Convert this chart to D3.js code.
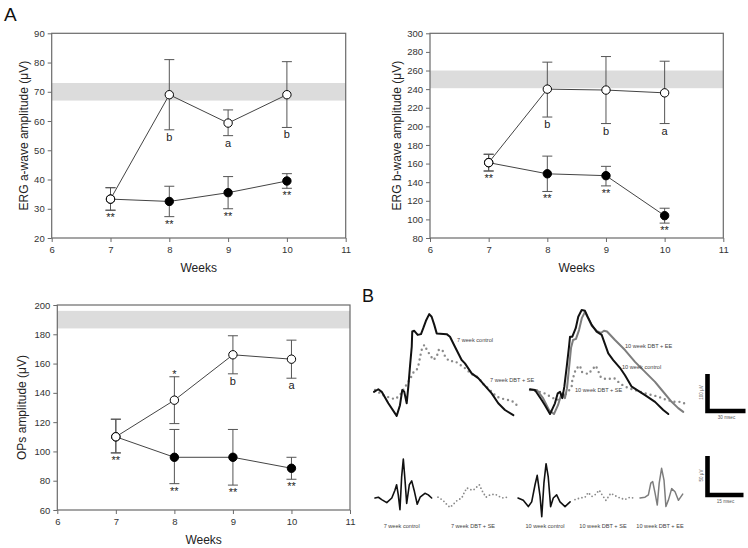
<!DOCTYPE html>
<html><head><meta charset="utf-8">
<script src="https://cdn.jsdelivr.net/npm/d3@7"></script>
<style>body{margin:0;background:#fff} svg{display:block;font-family:"Liberation Sans",Arial,sans-serif}</style>
</head><body><svg id="c" width="748" height="548"></svg>
<script>
// ---------- DATA ----------
const weeks = [7, 8, 9, 10];
const xTicks = [6, 7, 8, 9, 10, 11];

// ERG a-wave
const aOpen = [33.3, 69, 59.3, 69];
const aOpenLo = [29.5, 57, 55, 57.8];
const aOpenHi = [37.2, 81, 63.8, 80.3];
const aFilled = [33.3, 32.5, 35.5, 39.5];
const aFilledLo = [29.5, 27.3, 30, 37];
const aFilledHi = [37.2, 37.7, 41, 42];
const aBand = [67, 73];
const aLetters = ["", "b", "a", "b"];
const aStarsBelow = ["**", "**", "**", "**"];
const aStarsAbove = ["", "", "", ""];
const aTicks = [20, 30, 40, 50, 60, 70, 80, 90];

// ERG b-wave
const bOpen = [161, 240, 239, 236];
const bOpenLo = [152, 210, 203, 203];
const bOpenHi = [170, 269, 275, 270];
const bFilled = [161, 149, 147, 104];
const bFilledLo = [152, 130, 136, 96];
const bFilledHi = [170, 168, 157, 112];
const bBand = [241, 260];
const bLetters = ["", "b", "b", "a"];
const bStarsBelow = ["**", "**", "**", "**"];
const bStarsAbove = ["", "", "", ""];
const bTicks = [80, 100, 120, 140, 160, 180, 200, 220, 240, 260, 280, 300];

// OPs
const oOpen = [110, 135, 166, 163];
const oOpenLo = [99, 119, 153, 150];
const oOpenHi = [122, 151, 179, 176];
const oFilled = [110, 96, 96, 88.5];
const oFilledLo = [99, 78, 77, 81];
const oFilledHi = [122, 115, 115, 96];
const oBand = [184, 196];
const oLetters = ["", "", "b", "a"];
const oStarsBelow = ["**", "**", "**", "**"];
const oStarsAbove = ["", "*", "", ""];
const oTicks = [60, 80, 100, 120, 140, 160, 180, 200];

// Panel B traces: [time (ms), amplitude (µV)]
const ergCtl7 = [[0,-5],[3.4,2],[6.1,-5],[11.3,-36],[17.9,-70],[20.5,-41],[22.3,0],[23.9,-5],[25.8,-36],[27.1,9],[28.4,63],[29.8,117],[30.2,158],[31.8,160],[34.5,149],[37.1,151],[38.9,167],[41,187],[43.6,205],[45.5,198],[47.6,176],[49.5,153],[57.4,151],[60,144],[63.9,117],[69.2,81],[71.8,72],[77.1,45],[82.3,32],[92.9,-9],[98.1,-36],[103.4,-54],[110,-68]];
const ergSE7 = [[0.8,0],[7.3,-14],[11.8,-20],[16.6,-25],[20.5,-14],[23.9,5],[28.4,29],[31,47],[33.7,54],[35.5,72],[36.3,88],[37.6,108],[39.7,122],[42.1,106],[44.8,92],[46.8,81],[49.5,90],[51.3,110],[54.2,106],[56,92],[59.2,78],[63.9,78],[71.8,59],[77.1,43],[82.3,34],[86.3,16],[91.6,0],[96.8,-18],[102,-24],[108.7,-29],[113.4,-43]];
const ergCtl10 = [[0,2],[3.9,0],[9.2,-27],[11.8,-41],[15.8,-65],[19.7,-36],[21.9,-9],[23.7,-5],[25.5,-22],[27.1,9],[29,63],[30.8,117],[31.6,144],[33.4,144],[36.1,167],[38.1,198],[40.8,216],[43.4,214],[45.5,198],[48.7,176],[52.6,158],[56.6,149],[59.2,124],[61.8,99],[65.7,81],[71,60],[75,40],[80.3,9],[90.8,-14],[98.7,-32],[105.2,-54],[109.2,-65]];
const ergEE10 = [[0,0],[5.5,0],[10.3,-22],[15,-54],[18.9,-65],[22.1,-41],[24.5,-14],[26,-8],[27.6,-22],[29.2,5],[30.8,59],[32.4,114],[34,135],[36.3,138],[38.7,162],[41,195],[43.4,211],[45.8,195],[48.9,173],[52.9,159],[56,154],[58.4,160],[60.8,158],[67.1,135],[75,108],[82.9,76],[90.8,49],[98.7,22],[104,0],[111.8,-32],[117,-49],[121,-59]];
const ergSE10 = [[0,0],[5.5,-3],[11,-8],[16.6,-19],[21.3,-27],[26,-19],[30,-5],[32.9,9],[33.4,27],[35,43],[36.1,57],[39.5,66],[40.8,49],[46,43],[48.7,54],[51.9,66],[53.9,51],[56,34],[60.5,29],[66.5,32],[69.7,22],[72.8,14],[77.6,5],[82.9,0],[90.8,-9],[101.3,-18],[107.9,-27],[114.4,-32],[119.7,-32],[124.5,-41]];

const opCtl7 = [[0,0],[1.4,1],[2.8,-2],[4.9,-6],[7,0],[8.3,10],[9,17],[9.7,4],[10.4,-15],[11.1,27],[11.8,50],[12.5,23],[13.2,-7],[14.3,17],[15.3,22],[16.3,10],[17.6,-8],[18.8,1],[20.8,6],[22.2,4],[23.6,0]];
const opSE7 = [[0,1],[2.1,-3],[3.9,-9],[5,-12],[6.4,-8],[8,-3],[9.9,0],[10.8,6],[12,13],[13.3,11],[14.7,10],[16.1,14],[17.2,17],[18.6,8],[20,1],[21.7,4],[23.8,5],[25.5,2],[27.2,0],[28.6,1]];
const opCtl10 = [[0,0],[2.2,-3],[4.3,-11],[5.7,-5],[7.1,17],[8,29],[9.2,2],[9.9,-24],[10.8,19],[11.7,44],[12.6,27],[13.6,-11],[14.7,0],[16.1,4],[17.5,-5],[19.6,-11],[21.7,-5]];
const opSE10 = [[0,-2],[2.1,0],[4.2,1],[5.5,7],[7,2],[8.3,4],[10.1,10],[11.5,3],[12.9,-3],[14.9,6],[16.7,3],[18.8,0],[20.8,-2],[22.9,1],[24.3,0]];
const opEE10 = [[0,0],[2.1,1],[3.5,4],[4.5,19],[5.3,21],[6.3,6],[7.2,-9],[8,19],[9,38],[10,23],[10.8,-11],[11.8,-3],[13.2,12],[14.6,8],[16,-3],[17.8,5]];

const ergLabels = ["7 week control", "7 week DBT + SE", "10 week DBT + EE", "10 week control", "10 week DBT + SE"];
const opLabels = ["7 week control", "7 week DBT + SE", "10 week control", "10 week DBT + SE", "10 week DBT + EE"];
const ergBar = [100, 30];   // µV, msec
const opBar = [50, 15];     // µV, msec

// ---------- DRAW ----------
const svg = d3.select("#c");
const AX = "#6a6a6a";

function drawPlot(p) {
  const g = svg.append("g");
  const x = d3.scaleLinear().domain([6, 11]).range([p.left, p.right]);
  const y = d3.scaleLinear().domain(p.yDomain).range([p.bottom, p.top]);

  g.append("rect").attr("x", p.left).attr("width", p.right - p.left)
    .attr("y", y(p.band[1])).attr("height", y(p.band[0]) - y(p.band[1]))
    .attr("fill", "#dcdcdc");

  const xa = g.append("g").attr("transform", `translate(0,${p.bottom})`)
    .call(d3.axisBottom(x).tickValues(xTicks).tickSize(4).tickPadding(4).tickFormat(d3.format("d")));
  const ya = g.append("g").attr("transform", `translate(${p.left},0)`)
    .call(d3.axisLeft(y).tickValues(p.ticks).tickSize(4).tickPadding(3).tickFormat(d3.format("d")));
  [xa, ya].forEach(a => {
    a.select(".domain").remove();
    a.selectAll("line").attr("stroke", AX);
    a.selectAll("text").attr("fill", "#333").style("font-size", "9.5px");
  });
  g.append("rect").attr("x", p.left).attr("y", p.top)
    .attr("width", p.right - p.left).attr("height", p.bottom - p.top)
    .attr("fill", "none").attr("stroke", AX).attr("stroke-width", 1.2);

  const line = d3.line().x((d, i) => x(weeks[i])).y(d => y(d));
  const series = [
    {v: p.filled, lo: p.filledLo, hi: p.filledHi, fill: "#000"},
    {v: p.open, lo: p.openLo, hi: p.openHi, fill: "#fff"}
  ];
  series.forEach(s => {
    g.append("path").datum(s.v).attr("d", line).attr("fill", "none")
      .attr("stroke", "#444").attr("stroke-width", 1);
  });
  series.forEach(s => {
    weeks.forEach((w, i) => {
      const cx = x(w);
      g.append("line").attr("x1", cx).attr("x2", cx).attr("y1", y(s.lo[i])).attr("y2", y(s.hi[i]))
        .attr("stroke", "#555").attr("stroke-width", 1);
      [s.lo[i], s.hi[i]].forEach(e => g.append("line").attr("x1", cx - 5).attr("x2", cx + 5)
        .attr("y1", y(e)).attr("y2", y(e)).attr("stroke", "#555").attr("stroke-width", 1));
    });
  });
  series.forEach(s => {
    g.selectAll(null).data(s.v).enter().append("circle")
      .attr("cx", (d, i) => x(weeks[i])).attr("cy", d => y(d)).attr("r", 4.2)
      .attr("fill", s.fill).attr("stroke", "#000").attr("stroke-width", 1);
  });
  weeks.forEach((w, i) => {
    if (p.letters[i]) g.append("text").attr("x", x(w)).attr("y", y(p.openLo[i]) + 11)
      .attr("text-anchor", "middle").style("font-size", "11px").attr("fill", "#222").text(p.letters[i]);
    if (p.starsBelow[i]) g.append("text").attr("x", x(w)).attr("y", y(p.filledLo[i]) + 11)
      .attr("text-anchor", "middle").style("font-size", "11px").attr("fill", "#222").text(p.starsBelow[i]);
    if (p.starsAbove[i]) g.append("text").attr("x", x(w)).attr("y", y(p.openHi[i]) + 1)
      .attr("text-anchor", "middle").style("font-size", "11px").attr("fill", "#222").text(p.starsAbove[i]);
  });
  g.append("text").attr("x", (p.left + p.right) / 2).attr("y", p.bottom + 34)
    .attr("text-anchor", "middle").style("font-size", "12px").attr("fill", "#222").text("Weeks");
  g.append("text").attr("transform", `translate(${p.ylabX},${(p.top + p.bottom) / 2}) rotate(-90)`)
    .attr("text-anchor", "middle").attr("dominant-baseline", "middle")
    .style("font-size", "12px").attr("fill", "#222").text(p.ylabel);
}

drawPlot({left: 51.7, right: 345.7, top: 33.3, bottom: 238, yDomain: [20, 90], ticks: aTicks, band: aBand,
  open: aOpen, openLo: aOpenLo, openHi: aOpenHi, filled: aFilled, filledLo: aFilledLo, filledHi: aFilledHi,
  letters: aLetters, starsBelow: aStarsBelow, starsAbove: aStarsAbove, ylabX: 25, ylabel: "ERG a-wave amplitude (μV)"});
drawPlot({left: 430, right: 723.3, top: 33.3, bottom: 238, yDomain: [80, 300], ticks: bTicks, band: bBand,
  open: bOpen, openLo: bOpenLo, openHi: bOpenHi, filled: bFilled, filledLo: bFilledLo, filledHi: bFilledHi,
  letters: bLetters, starsBelow: bStarsBelow, starsAbove: bStarsAbove, ylabX: 398, ylabel: "ERG b-wave amplitude (μV)"});
drawPlot({left: 57.3, right: 350, top: 305, bottom: 510, yDomain: [60, 200], ticks: oTicks, band: oBand,
  open: oOpen, openLo: oOpenLo, openHi: oOpenHi, filled: oFilled, filledLo: oFilledLo, filledHi: oFilledHi,
  letters: oLetters, starsBelow: oStarsBelow, starsAbove: oStarsAbove, ylabX: 23, ylabel: "OPs amplitude (μV)"});

svg.append("text").attr("x", 4).attr("y", 21).style("font-size", "19px").attr("fill", "#111").text("A");
svg.append("text").attr("x", 362).attr("y", 302).style("font-size", "18px").attr("fill", "#111").text("B");

// ---------- Panel B ----------
const ergT = d3.scaleLinear().domain([0, 30]).range([0, 38]);
const ergV = d3.scaleLinear().domain([0, 100]).range([390, 353]);
const opT = d3.scaleLinear().domain([0, 15]).range([0, 36]);
const opV = d3.scaleLinear().domain([0, 50]).range([498, 459]);

function trace(data, x0, ts, vs, style) {
  const ln = d3.line().x(d => x0 + ts(d[0])).y(d => vs(d[1]));
  const p = svg.append("path").datum(data).attr("d", ln).attr("fill", "none")
    .attr("stroke", style.color).attr("stroke-width", style.w)
    .attr("stroke-linejoin", "round").attr("stroke-linecap", "round");
  if (style.dash) p.attr("stroke-dasharray", style.dash);
}
const solidBlack = {color: "#111", w: 2};
const solidGray = {color: "#7d7d7d", w: 2};
const dots = {color: "#8a8a8a", w: 2.4, dash: "0 5"};
trace(ergSE7, 374, ergT, ergV, dots);
trace(ergCtl7, 374, ergT, ergV, solidBlack);
trace(ergSE10, 530, ergT, ergV, dots);
trace(ergEE10, 530, ergT, ergV, solidGray);
trace(ergCtl10, 530, ergT, ergV, solidBlack);

const opBlack = {color: "#111", w: 1.6};
const opGray = {color: "#7d7d7d", w: 1.5};
const opDots = {color: "#8a8a8a", w: 1.8, dash: "0 3.6"};
trace(opCtl7, 375, opT, opV, opBlack);
trace(opSE7, 438, opT, opV, opDots);
trace(opCtl10, 518, opT, opV, opBlack);
trace(opSE10, 575, opT, opV, opDots);
trace(opEE10, 640, opT, opV, opGray);

const small = (x, y, t, anchor) => svg.append("text").attr("x", x).attr("y", y)
  .attr("text-anchor", anchor || "start").style("font-size", "5.6px").attr("fill", "#444").text(t);
small(457, 342, ergLabels[0]);
small(490, 382, ergLabels[1]);
small(625, 348, ergLabels[2]);
small(622, 369, ergLabels[3]);
small(575, 392, ergLabels[4]);
[401.7, 473, 545, 603, 660].forEach((x, i) => small(x, 528, opLabels[i], "middle"));

// scale bars
function scaleBar(cx, cy, vLen, hLen, vLab, hLab) {
  svg.append("path").attr("d", `M${cx},${cy - vLen} L${cx},${cy} L${cx + hLen},${cy}`)
    .attr("fill", "none").attr("stroke", "#000").attr("stroke-width", 4.6).attr("stroke-linejoin", "miter");
  svg.append("text").attr("transform", `translate(${cx - 4.5},${cy - vLen / 2}) rotate(-90)`)
    .attr("text-anchor", "middle").style("font-size", "4.6px").attr("fill", "#555").text(vLab);
  svg.append("text").attr("x", cx + hLen / 2).attr("y", cy + 7.5)
    .attr("text-anchor", "middle").style("font-size", "4.6px").attr("fill", "#555").text(hLab);
}
scaleBar(707.5, 411, ergV(0) - ergV(ergBar[0]), ergT(ergBar[1]), ergBar[0] + " μV", ergBar[1] + " msec");
scaleBar(707.5, 495, opV(0) - opV(opBar[0]), opT(opBar[1]), opBar[0] + " μV", opBar[1] + " msec");
</script></body></html>
